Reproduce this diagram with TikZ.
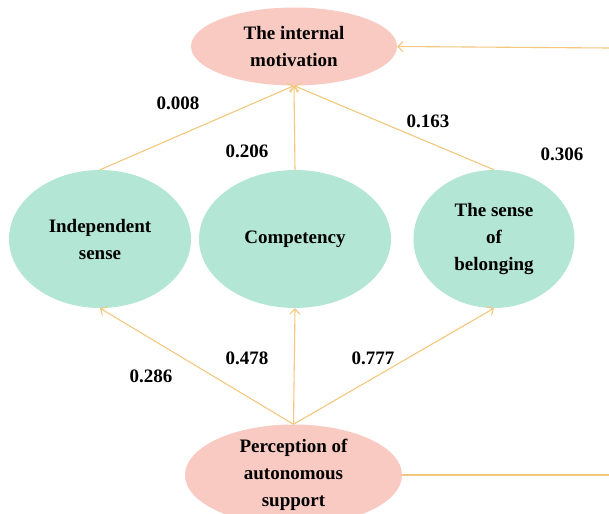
\documentclass[tikz,border=0pt]{standalone}
\usepackage{fontspec}
\setmainfont{Liberation Serif}
\usetikzlibrary{shapes.geometric,arrows.meta}
\definecolor{pinkfill}{HTML}{F8CAC2}
\definecolor{greenfill}{HTML}{B3E6D4}
\definecolor{linkcol}{HTML}{F3C77E}
\tikzset{
  base/.style={ellipse, inner sep=0pt, align=center, font=\bfseries\fontsize{19}{27}\selectfont},
  pinkel/.style={base, fill=pinkfill},
  greenel/.style={base, fill=greenfill},
  link/.style={draw=linkcol, line width=1.1pt},
  arr/.style={link, -{Straight Barb[length=5pt,width=10pt,line width=1.1pt]}},
  val/.style={font=\bfseries\fontsize{19}{22}\selectfont, inner sep=0pt}
}
\begin{document}
\begin{tikzpicture}[x=1pt,y=-1pt]
\useasboundingbox (0,0) rectangle (609,513);
\node[pinkel, minimum width=206pt, minimum height=78pt] (mot) at (294,46.5) {The internal\\motivation};
\node[pinkel, minimum width=217pt, minimum height=90pt] (per) at (293.5,475) {Perception of\\autonomous\\support};
\node[greenel, minimum width=182pt, minimum height=138pt] (ind) at (100,239) {Independent\\sense};
\node[greenel, minimum width=192pt, minimum height=138pt] (com) at (295,239) {Competency};
\node[greenel, minimum width=161pt, minimum height=138pt] (bel) at (494,239) {The sense\\of\\belonging};
\coordinate (rtop) at (609,48);
\coordinate (rbot) at (609,475);
\draw[arr] (rtop) -- (mot.east);
\draw[link] (per.east) -- (rbot);
\draw[arr] (ind.north) -- (mot.south);
\draw[arr] (com.north) -- (mot.south);
\draw[arr] (bel.north) -- (mot.south);
\draw[arr] (per.north) -- (ind.south);
\draw[arr] (per.north) -- (com.south);
\draw[arr] (per.north) -- (bel.south);
\node[val] (v1) at (178,103) {0.008};
\node[val] (v2) at (247,151) {0.206};
\node[val] (v3) at (428,121) {0.163};
\node[val] (v4) at (562,154) {0.306};
\node[val] (v5) at (151,376) {0.286};
\node[val] (v6) at (247,358) {0.478};
\node[val] (v7) at (373,358) {0.777};
\end{tikzpicture}
\end{document}
